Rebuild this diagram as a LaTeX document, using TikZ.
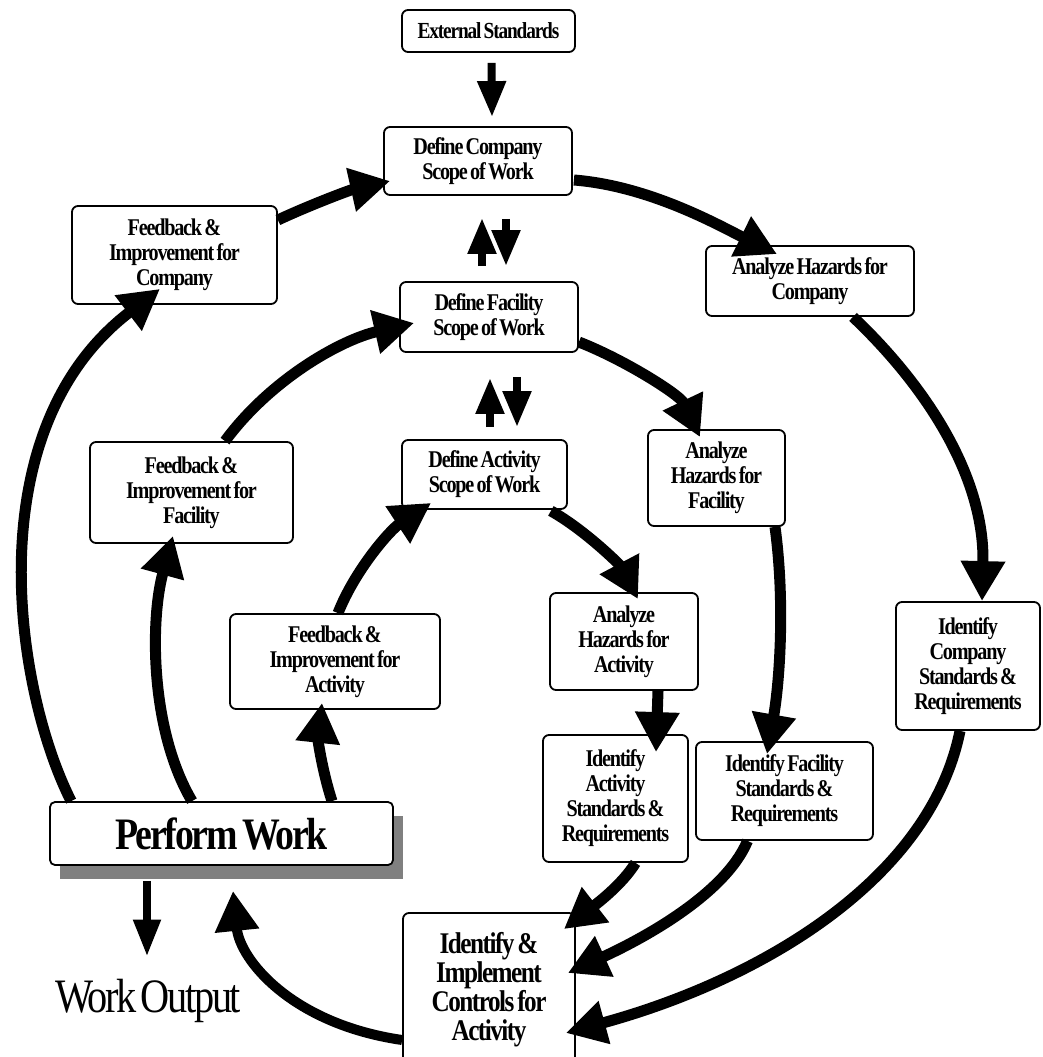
\documentclass[tikz,border=0pt]{standalone}
\usepackage{fontspec}
\usetikzlibrary{arrows.meta,calc}
\newfontfamily\tnr[FakeStretch=0.84,LetterSpace=-5,WordSpace=0.6]{Liberation Serif}
\tikzset{
  box/.style={draw, line width=1.8pt, rounded corners=6pt, fill=white, align=center,
    inner sep=0pt, font=\tnr\bfseries\fontsize{24}{25}\selectfont},
  flow/.style={line width=11pt, -{Triangle[length=40pt,width=42pt]}},
  smallarrow/.style={line width=8pt, -{Triangle[length=36pt,width=27pt]}},
}
\begin{document}
\begin{tikzpicture}[x=1pt,y=-1pt]
\useasboundingbox (0,0) rectangle (1042,1057);

% nodes
\node[box, minimum width=173pt, minimum height=42pt, font=\tnr\bfseries\fontsize{23}{24}\selectfont] (ext) at (488.5,31) {External Standards};
\node[box, minimum width=188pt, minimum height=68pt] (dco) at (478,161) {Define Company\\Scope of Work};
\node[box, minimum width=205pt, minimum height=98pt] (fco) at (174.5,255) {Feedback \&\\Improvement for\\Company};
\node[box, minimum width=208pt, minimum height=70pt] (aco) at (810,281) {Analyze Hazards for\\Company};
\node[box, minimum width=178pt, minimum height=70pt] (dfa) at (489,317) {Define Facility\\Scope of Work};
\node[box, minimum width=203pt, minimum height=101pt] (ffa) at (191.5,492.5) {Feedback \&\\Improvement for\\Facility};
\node[box, minimum width=137pt, minimum height=96pt] (afa) at (716.5,478) {Analyze\\Hazards for\\Facility};
\node[box, minimum width=165pt, minimum height=69pt] (dac) at (484.5,474.5) {Define Activity\\Scope of Work};
\node[box, minimum width=210pt, minimum height=95pt] (fac) at (335,661.5) {Feedback \&\\Improvement for\\Activity};
\node[box, minimum width=148pt, minimum height=97pt] (aac) at (624,641.5) {Analyze\\Hazards for\\Activity};
\node[box, minimum width=144pt, minimum height=128pt] (ico) at (968,666) {Identify\\Company\\Standards \&\\Requirements};
\node[box, minimum width=145pt, minimum height=127pt] (iac) at (615.5,798.5) {Identify\\Activity\\Standards \&\\Requirements};
\node[box, minimum width=177pt, minimum height=98pt] (ifa) at (784.5,791) {Identify Facility\\Standards \&\\Requirements};
\fill[black!50] (60,816) rectangle (403,879);
\node[box, minimum width=343pt, minimum height=63pt, rounded corners=5pt, font=\tnr\bfseries\fontsize{45}{48}\selectfont] (pw) at (221.5,833.5) {Perform Work};
\node[box, minimum width=172pt, minimum height=154pt, font=\tnr\bfseries\fontsize{30}{29}\selectfont] (ctl) at (489,990) {Identify \&\\Implement\\Controls for\\Activity};
\node[anchor=base, inner sep=0pt, font=\tnr\fontsize{48}{50}\selectfont] (wo) at (148,1012) {Work Output};

% straight arrows
\draw[smallarrow] ($(ext.south)+(3,10)$) -- ($(dco.north)+(14,-9)$);
\draw[smallarrow] ($(dfa.north)+(-7,-15)$) -- ($(dco.south)+(4,22)$);
\draw[smallarrow] ($(dco.south)+(28,23)$) -- ($(dfa.north)+(17,-15)$);
\draw[smallarrow] ($(dac.north)+(5.5,-12)$) -- ($(dfa.south)+(1,25)$);
\draw[smallarrow] ($(dfa.south)+(28,24)$) -- ($(dac.north)+(32.5,-12)$);
\draw[smallarrow, -{Triangle[length=37pt,width=26pt]}] ($(pw.south)+(-74.5,15)$) -- ($(wo.north)+(-1,-22)$);

% company ring
\draw[flow] ($(dco.east)+(1,19)$) .. controls (650,186) and (720,226) .. ($(aco.north)+(-33,9)$);
\draw[flow] ($(aco.south)+(43,0)$) .. controls (930,390) and (985,480) .. ($(ico.north)+(14,0)$);
\draw[flow] ($(ico.south)+(-8,0)$) .. controls (930,880) and (760,980) .. ($(ctl.east)+(-10,43)$);
\draw[flow, line width=10pt] ($(ctl.west)+(0,50)$) .. controls (292,1024) and (240,960) .. ($(pw.south)+(11.5,25)$);
\draw[flow] ($(pw.north west)+(22,0)$) .. controls (15,690) and (-25,430) .. ($(fco.south)+(-14.5,-16)$);
\draw[flow] ($(fco.east)+(0,-35)$) .. controls (310,205) and (350,190) .. ($(dco.west)+(7,20)$);

% facility ring
\draw[flow] ($(dfa.east)+(0,25)$) .. controls (625,360) and (680,395) .. ($(afa.north)+(-16.5,8)$);
\draw[flow] ($(afa.south)+(58.5,0)$) .. controls (785,600) and (780,680) .. ($(ifa.north)+(-17.5,13)$);
\draw[flow] ($(ifa.south)+(-37,0)$) .. controls (725,895) and (640,940) .. ($(ctl.east)+(-8,-17)$);
\draw[flow] ($(pw.north)+(-29.5,0)$) .. controls (150,730) and (150,620) .. ($(ffa.south)+(-18.5,-8)$);
\draw[flow] ($(ffa.north)+(33.5,0)$) .. controls (270,380) and (340,340) .. ($(dfa.west)+(15,6)$);

% activity ring
\draw[flow] ($(dac.south east)+(-17,1)$) .. controls (585,530) and (620,565) .. ($(aac.north)+(14,7)$);
\draw[flow] ($(aac.south)+(34,0)$) -- ($(iac.north)+(40.5,18)$);
\draw[flow] ($(iac.south)+(20,0)$) .. controls (622,885) and (595,905) .. ($(ctl.north east)+(-12,17)$);
\draw[flow] ($(pw.north)+(110.5,0)$) .. controls (322,770) and (318,740) .. ($(fac.south)+(-13,-7)$);
\draw[flow] ($(fac.north)+(3,0)$) .. controls (355,570) and (390,530) .. ($(dac.south west)+(30,-7)$);
\end{tikzpicture}
\end{document}
